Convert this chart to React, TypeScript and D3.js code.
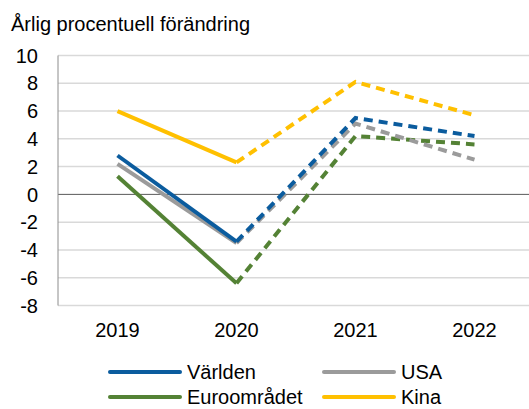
import React from 'react';
import * as d3 from 'd3';

const years = ['2019', '2020', '2021', '2022'];
const yTicks = [10, 8, 6, 4, 2, 0, -2, -4, -6, -8];

const varlden = [2.8, -3.4, 5.5, 4.2];
const usa = [2.2, -3.5, 5.1, 2.5];
const euro = [1.3, -6.4, 4.2, 3.6];
const kina = [6.0, 2.3, 8.1, 5.7];

const series = [
  { name: 'Världen', values: varlden, color: '#0b5c9e' },
  { name: 'USA', values: usa, color: '#9b9b9b' },
  { name: 'Euroområdet', values: euro, color: '#548235' },
  { name: 'Kina', values: kina, color: '#ffc000' }
];
// ritordning: sista hamnar överst
const drawOrder = ['Kina', 'Euroområdet', 'USA', 'Världen'];

const W = 529;
const H = 409;
const FONT = '"Liberation Sans", Arial, Helvetica, sans-serif';
const FS = '20px';

const App: React.FC = () => {
  const svgRef = React.useRef<SVGSVGElement>(null);

  React.useEffect(() => {
    if (!svgRef.current) return;
    const svg = d3.select(svgRef.current);
    svg.selectAll('*').remove();

    const left = 58;
    const x = d3.scalePoint<string>().domain(years).range([left, 534]).padding(0.5);
    const y = d3.scaleLinear().domain([-8, 10]).range([305.5, 55.5]);

    // stödlinjer
    svg.append('g')
      .selectAll('line')
      .data(yTicks.filter(t => t !== 0))
      .enter().append('line')
      .attr('x1', left)
      .attr('x2', W)
      .attr('y1', d => y(d))
      .attr('y2', d => y(d))
      .attr('stroke', '#d9d9d9')
      .attr('stroke-width', 1.5);

    // nollinje
    svg.append('line')
      .attr('x1', left).attr('x2', W)
      .attr('y1', y(0)).attr('y2', y(0))
      .attr('stroke', '#595959')
      .attr('stroke-width', 1);

    // y-axel
    svg.append('line')
      .attr('x1', left).attr('x2', left)
      .attr('y1', y(10)).attr('y2', y(-8))
      .attr('stroke', '#8c8c8c')
      .attr('stroke-width', 1);

    svg.append('g')
      .selectAll('text')
      .data(yTicks)
      .enter().append('text')
      .attr('x', 38)
      .attr('y', d => y(d))
      .attr('dy', '0.36em')
      .attr('text-anchor', 'end')
      .attr('font-family', FONT)
      .attr('font-size', FS)
      .attr('fill', '#000')
      .text(d => String(d));

    // x-etiketter
    svg.append('g')
      .selectAll('text')
      .data(years)
      .enter().append('text')
      .attr('x', d => x(d) || 0)
      .attr('y', 337)
      .attr('text-anchor', 'middle')
      .attr('font-family', FONT)
      .attr('font-size', FS)
      .attr('fill', '#000')
      .text(d => d);

    // rubrik
    svg.append('text')
      .attr('x', 11)
      .attr('y', 31)
      .attr('font-family', FONT)
      .attr('font-size', FS)
      .attr('fill', '#000')
      .text('Årlig procentuell förändring');

    const line = d3.line<{ year: string; value: number }>()
      .x(d => x(d.year) || 0)
      .y(d => y(d.value));

    drawOrder.forEach(name => {
      const s = series.find(v => v.name === name)!;
      const pts = years.map((yr, i) => ({ year: yr, value: s.values[i] }));
      // utfall
      svg.append('path')
        .datum(pts.slice(0, 2))
        .attr('fill', 'none')
        .attr('stroke', s.color)
        .attr('stroke-width', 4)
        .attr('d', line);
      // prognos
      svg.append('path')
        .datum(pts.slice(1))
        .attr('fill', 'none')
        .attr('stroke', s.color)
        .attr('stroke-width', 4)
        .attr('stroke-dasharray', '9,6')
        .attr('d', line);
    });

    // förklaring
    const legendPos = [
      { lx: 110, ly: 372 },
      { lx: 324, ly: 372 },
      { lx: 110, ly: 397 },
      { lx: 324, ly: 397 }
    ];
    series.forEach((s, i) => {
      const p = legendPos[i];
      const g = svg.append('g').attr('transform', `translate(${p.lx},${p.ly})`);
      g.append('line')
        .attr('x1', 0).attr('x2', 70)
        .attr('y1', 0).attr('y2', 0)
        .attr('stroke', s.color)
        .attr('stroke-width', 4)
        .attr('stroke-linecap', 'round');
      g.append('text')
        .attr('x', 77)
        .attr('y', 0)
        .attr('dy', '0.34em')
        .attr('font-family', FONT)
        .attr('font-size', FS)
        .attr('fill', '#000')
        .text(s.name);
    });
  }, []);

  return (
    <div style={{ position: 'absolute', left: 0, top: 0, width: W, height: H, background: '#fff' }}>
      <svg ref={svgRef} width={W} height={H} style={{ display: 'block' }} />
    </div>
  );
};

export default App;
